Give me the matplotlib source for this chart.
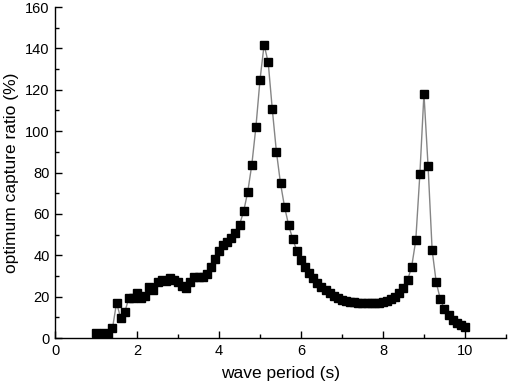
import numpy as np
import matplotlib
matplotlib.use("Agg")
import matplotlib.pyplot as plt
from matplotlib.ticker import MultipleLocator

plt.rcParams['font.family'] = ['Liberation Sans', 'DejaVu Sans']

# wave period (s), 1.0 .. 10.0 step 0.1
period = np.round(np.arange(1.0, 10.01, 0.1), 1)

# optimum capture ratio (%)
ratio = [
    2.3, 1.9, 2.7, 1.9, 4.7, 17.1, 9.7, 12.6, 19.3, 19.6,      # 1.0-1.9
    21.9, 19.2, 20.5, 24.5, 23.2, 27.2, 28.0, 27.7, 29.2, 28.0,  # 2.0-2.9
    26.9, 25.1, 24.3, 27.2, 29.3, 29.3, 29.3, 30.9, 34.2, 38.3,  # 3.0-3.9
    42.0, 45.1, 46.4, 48.3, 50.6, 54.8, 61.2, 70.6, 83.8, 102.0, # 4.0-4.9
    124.8, 141.8, 133.2, 110.5, 90.1, 74.8, 63.3, 54.5, 47.7, 42.3,  # 5.0-5.9
    37.8, 34.5, 31.5, 29.0, 26.8, 24.9, 23.1, 21.6, 20.3, 19.3,  # 6.0-6.9
    18.5, 18.0, 17.6, 17.3, 17.1, 16.9, 16.8, 16.8, 16.9, 17.1,  # 7.0-7.9
    17.4, 17.9, 18.7, 19.9, 21.6, 24.0, 28.0, 34.5, 47.2, 79.1,  # 8.0-8.9
    118.1, 83.3, 42.5, 26.9, 18.8, 14.0, 11.1, 9.0, 7.1, 6.3,    # 9.0-9.9
    5.5,                                                        # 10.0
]

fig = plt.figure(figsize=(5.1, 3.9), dpi=100)
ax = fig.add_axes([0.108, 0.133, 0.884, 0.849])

ax.plot(period, ratio, color='#858585', linewidth=1.0,
        marker='s', markersize=5.8, markerfacecolor='black',
        markeredgecolor='black', zorder=3)

ax.set_xlim(0, 11)
ax.set_ylim(0, 160)
ax.set_xticks([0, 2, 4, 6, 8, 10])
ax.xaxis.set_minor_locator(MultipleLocator(1))
ax.yaxis.set_major_locator(MultipleLocator(20))
ax.yaxis.set_minor_locator(MultipleLocator(10))

ax.spines['top'].set_visible(False)
ax.spines['right'].set_visible(False)
for s in ['left', 'bottom']:
    ax.spines[s].set_linewidth(1.0)

ax.tick_params(which='major', direction='in', length=5, width=1,
               labelsize=10.5, pad=4)
ax.tick_params(which='minor', direction='in', length=3, width=1)

ax.set_xlabel('wave period (s)', fontsize=12.5, labelpad=6)
ax.set_ylabel('optimum capture ratio (%)', fontsize=12.5, labelpad=4)

fig.savefig('out.png', dpi=100)
